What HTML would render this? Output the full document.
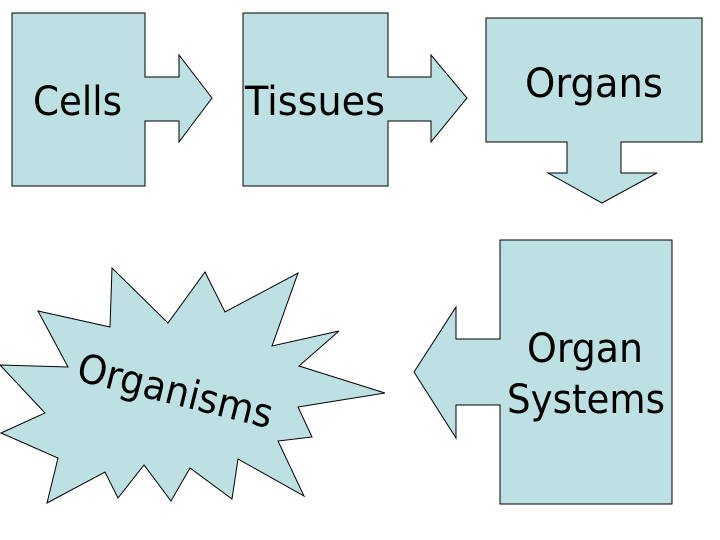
<!DOCTYPE html>
<html><head><meta charset="utf-8"><style>html,body{margin:0;padding:0;background:#fff}svg{display:block}</style></head>
<body>
<svg width="720" height="540" viewBox="0 0 720 540" xmlns="http://www.w3.org/2000/svg">
<g fill="#bde0e3" stroke="#000" stroke-width="1">
<polygon points="12,13 145,13 145,77 179,77 179,55 212,98 179,142 179,121 145,121 145,186 12,186"/>
<polygon points="243,13 388,13 388,77 431,77 431,55 467,98 431,142 431,121 388,121 388,186 243,186"/>
<polygon points="486,18 702,18 702,142 621,142 621,173 657,173 602,203 548,173 567,173 567,142 486,142"/>
<polygon points="500,240 672,240 672,504 500,504 500,405 456,405 456,438 414,372 456,307 456,339 500,339"/>
<polygon points="110,327 112,268 168,323 205,272 225,312 298,273 272,346 339,331 299,366 385,393 298,407 312,437 278,441 304,496 238,459 232,499 190,468 171,501 144,465 118,498 105,472 47,503 58,458 1,433 45,413 0,365 68,367 38,311"/>
</g>
<g font-family="'DejaVu Sans','Liberation Sans',sans-serif" font-size="40" fill="#000">
<text x="33" y="115" textLength="89" lengthAdjust="spacingAndGlyphs">Cells</text>
<text x="245" y="115" textLength="140" lengthAdjust="spacingAndGlyphs">Tissues</text>
<text x="525" y="97" textLength="138" lengthAdjust="spacingAndGlyphs">Organs</text>
<text x="527" y="362" textLength="116" lengthAdjust="spacingAndGlyphs">Organ</text>
<text x="507" y="413" textLength="158" lengthAdjust="spacingAndGlyphs">Systems</text>
<text x="75" y="380" transform="rotate(14 75 380)" textLength="200" lengthAdjust="spacingAndGlyphs">Organisms</text>
</g>
</svg>
</body></html>
